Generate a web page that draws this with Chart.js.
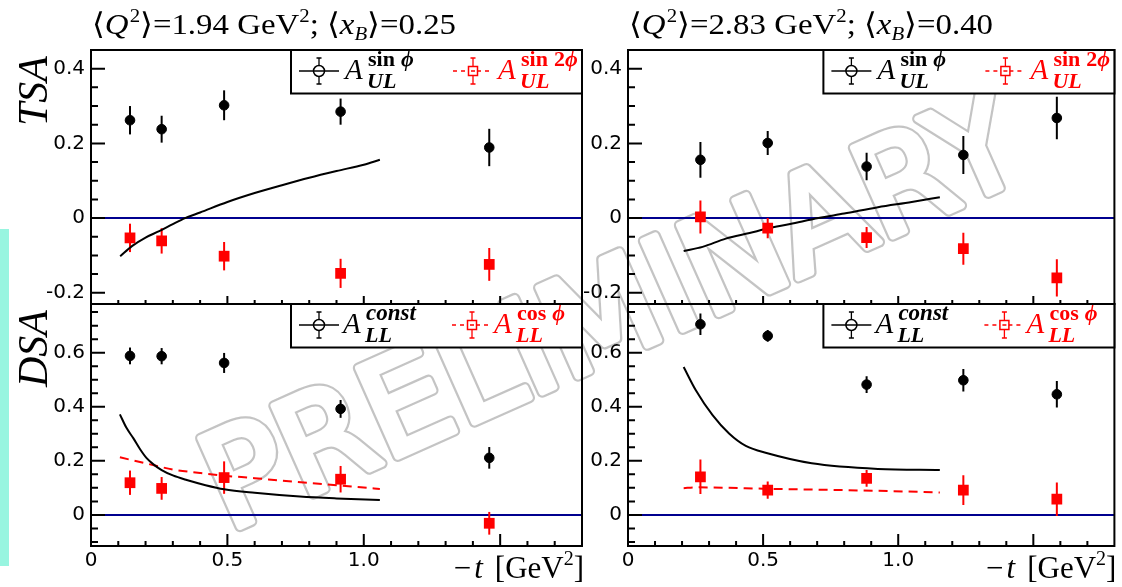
<!DOCTYPE html>
<html><head><meta charset="utf-8">
<script src="https://cdn.jsdelivr.net/npm/chart.js@4.4.1/dist/chart.umd.min.js"></script>
<style>
html,body{margin:0;padding:0;background:#fff;}
#wrap{position:relative;width:1122px;height:587px;overflow:hidden;background:#fff;}
#wrap canvas{position:absolute;left:0;top:0;}
</style></head><body>
<div id="wrap">
<canvas id="cTL" width="1122" height="587"></canvas>
<canvas id="cTR" width="1122" height="587"></canvas>
<canvas id="cBL" width="1122" height="587"></canvas>
<canvas id="cBR" width="1122" height="587"></canvas>
</div>
<script>
// ---------------- DATA ----------------
const tBins_Q194 = [0.143, 0.259, 0.488, 0.915, 1.460];
const tBins_Q283 = [0.268, 0.517, 0.883, 1.241, 1.587];

const AULsinphi_Q194      = [0.262, 0.238, 0.302, 0.285, 0.189];
const AULsinphi_Q194_err  = [0.038, 0.036, 0.040, 0.035, 0.050];
const AULsin2phi_Q194     = [-0.053, -0.061, -0.102, -0.148, -0.124];
const AULsin2phi_Q194_err = [0.038, 0.034, 0.038, 0.039, 0.044];

const AULsinphi_Q283      = [0.156, 0.201, 0.138, 0.169, 0.268];
const AULsinphi_Q283_err  = [0.048, 0.032, 0.037, 0.051, 0.057];
const AULsin2phi_Q283     = [0.003, -0.027, -0.052, -0.082, -0.160];
const AULsin2phi_Q283_err = [0.044, 0.027, 0.028, 0.043, 0.050];

const ALLconst_Q194       = [0.588, 0.587, 0.562, 0.392, 0.211];
const ALLconst_Q194_err   = [0.031, 0.030, 0.037, 0.033, 0.040];
const ALLcosphi_Q194      = [0.119, 0.098, 0.138, 0.132, -0.031];
const ALLcosphi_Q194_err  = [0.045, 0.042, 0.060, 0.049, 0.042];

const ALLconst_Q283       = [0.705, 0.662, 0.482, 0.498, 0.446];
const ALLconst_Q283_err   = [0.040, 0.022, 0.031, 0.042, 0.049];
const ALLcosphi_Q283      = [0.141, 0.092, 0.135, 0.092, 0.058];
const ALLcosphi_Q283_err  = [0.064, 0.032, 0.031, 0.055, 0.062];

// model curves
const modelT_UL_Q194     = [0.107, 0.15, 0.2, 0.25, 0.3, 0.345, 0.4, 0.5, 0.6, 0.7, 0.8, 0.9, 1.0, 1.059];
const modelSinphi_Q194   = [-0.102, -0.075, -0.052, -0.035, -0.016, 0.0, 0.015, 0.043, 0.067, 0.088, 0.108, 0.126, 0.143, 0.156];

const modelT_UL_Q283     = [0.206, 0.276, 0.362, 0.45, 0.516, 0.6, 0.705, 0.8, 0.925, 1.05, 1.154];
const modelSinphi_Q283   = [-0.088, -0.077, -0.055, -0.04, -0.028, -0.016, 0.0, 0.012, 0.029, 0.043, 0.056];

const modelT_LL_Q194     = [0.106, 0.13, 0.155, 0.18, 0.204, 0.23, 0.259, 0.3, 0.351, 0.42, 0.488, 0.6, 0.766, 0.9, 1.059];
const modelConst_Q194    = [0.372, 0.322, 0.284, 0.243, 0.21, 0.186, 0.166, 0.146, 0.129, 0.11, 0.095, 0.082, 0.068, 0.061, 0.055];
const modelT_LLc_Q194    = [0.106, 0.204, 0.3, 0.4, 0.488, 0.6, 0.695, 0.8, 0.9, 1.0, 1.059];
const modelCosphi_Q194   = [0.213, 0.19, 0.168, 0.155, 0.145, 0.136, 0.127, 0.118, 0.11, 0.101, 0.096];

const modelT_LL_Q283     = [0.206, 0.251, 0.313, 0.374, 0.436, 0.516, 0.68, 0.925, 1.154];
const modelConst_Q283    = [0.547, 0.461, 0.369, 0.301, 0.255, 0.228, 0.191, 0.170, 0.166];
const modelT_LLc_Q283    = [0.206, 0.25, 0.5, 0.925, 1.154];
const modelCosphi_Q283   = [0.099, 0.102, 0.097, 0.089, 0.083];

// tick labels
const xMajorTicks  = [0, 0.5, 1.0];
const xMajorLabels = ['0', '0.5', '1.0'];
const yMajorTicks  = [-0.2, 0, 0.2, 0.4, 0.6];
const yMajorLabels = ['-0.2', '0', '0.2', '0.4', '0.6'];

// ---------------- HELPERS ----------------
const SERIF = '"Liberation Serif", "DejaVu Serif", serif';
const SANS = '"DejaVu Sans", sans-serif';
const zip = (xs, ys) => xs.map((x, i) => ({x: x, y: ys[i]}));
const near = (v, m) => Math.abs(v / m - Math.round(v / m)) < 1e-6;

function xLabel(v) {
  const i = xMajorTicks.findIndex(t => Math.abs(t - v) < 1e-6);
  return i >= 0 ? xMajorLabels[i] : '';
}
function yLabel(v) {
  const i = yMajorTicks.findIndex(t => Math.abs(t - v) < 1e-6);
  return i >= 0 ? yMajorLabels[i] : '';
}

function drawRich(ctx, x, y, parts) {
  let cx = x;
  for (const p of parts) {
    ctx.font = p[1]; ctx.fillStyle = p[3] || '#000';
    ctx.fillText(p[0], cx, y + (p[2] || 0));
    cx += ctx.measureText(p[0]).width + (p[4] || 0);
  }
  return cx;
}
function richWidth(ctx, parts) {
  let w = 0;
  for (const p of parts) { ctx.font = p[1]; w += ctx.measureText(p[0]).width + (p[4] || 0); }
  return w;
}

function drawBackground(ctx) {
  ctx.save();
  ctx.fillStyle = 'rgb(152,245,224)';
  ctx.fillRect(0, 229, 9, 337);
  // PRELIMINARY watermark
  ctx.translate(228, 532);
  ctx.rotate(-24 * Math.PI / 180);
  ctx.font = '133px ' + SANS;
  ctx.textBaseline = 'alphabetic';
  ctx.lineJoin = 'round'; ctx.lineCap = 'round';
  ctx.strokeStyle = '#c4c4c4'; ctx.lineWidth = 11;
  ctx.strokeText('PRELIMINARY', 0, 0);
  ctx.strokeStyle = '#ffffff'; ctx.lineWidth = 6.5;
  ctx.strokeText('PRELIMINARY', 0, 0);
  ctx.fillStyle = '#ffffff';
  ctx.fillText('PRELIMINARY', 0, 0);
  ctx.restore();
}

function drawTitle(ctx, x, y, q, xb) {
  const F = '30px ' + SERIF, FI = 'italic 30px ' + SERIF, FS = '19px ' + SERIF, FSI = 'italic 19px ' + SERIF;
  const parts = [
    ['\u27E8', F], ['Q', FI, 0, null, 1], ['2', FS, -12], ['\u27E9=' + q + ' GeV', F], ['2', FS, -12],
    ['; \u27E8', F], ['x', FI], ['B', FSI, 6], ['\u27E9=' + xb, F]
  ];
  const w = richWidth(ctx, parts);
  ctx.save();
  ctx.translate(x, y);
  ctx.scale(364 / w, 1);
  drawRich(ctx, 0, 0, parts);
  ctx.restore();
}

function drawYTitle(ctx, txt, xBase, yEnd) {
  ctx.save();
  ctx.translate(xBase, yEnd);
  ctx.rotate(-Math.PI / 2);
  ctx.font = 'italic 42px ' + SERIF;
  ctx.fillStyle = '#000';
  ctx.textAlign = 'right';
  ctx.textBaseline = 'alphabetic';
  ctx.fillText(txt, 0, 0);
  ctx.restore();
}

function drawXTitle(ctx, right, base) {
  const F = '31px ' + SERIF, FI = 'italic 31px ' + SERIF, FS = '20px ' + SERIF;
  const parts = [['\u2212', F, 0, null, 3], ['t', FI, 0, null, 12], ['[GeV', F], ['2', FS, -13], [']', F]];
  const w = richWidth(ctx, parts);
  drawRich(ctx, right - w, base, parts);
}

function legendEntry(ctx, x0, yc, color, dashed, square) {
  ctx.save();
  ctx.strokeStyle = color; ctx.lineWidth = 1.6;
  if (dashed) ctx.setLineDash([4, 4]);
  ctx.beginPath(); ctx.moveTo(x0, yc); ctx.lineTo(x0 + 40, yc); ctx.stroke();
  ctx.setLineDash([]);
  const xm = x0 + 20;
  ctx.lineWidth = 1.3;
  ctx.beginPath();
  ctx.moveTo(xm, yc - 13); ctx.lineTo(xm, yc + 13);
  ctx.moveTo(xm - 2.5, yc - 13); ctx.lineTo(xm + 2.5, yc - 13);
  ctx.moveTo(xm - 2.5, yc + 13); ctx.lineTo(xm + 2.5, yc + 13);
  ctx.stroke();
  ctx.lineWidth = 1.5;
  if (square) {
    ctx.fillStyle = '#fff'; ctx.fillRect(xm - 4.5, yc - 4.5, 9, 9);
    ctx.strokeRect(xm - 4.5, yc - 4.5, 9, 9);
    ctx.beginPath(); ctx.moveTo(xm - 2, yc); ctx.lineTo(xm + 2, yc); ctx.stroke();
  } else {
    ctx.fillStyle = '#fff';
    ctx.beginPath(); ctx.arc(xm, yc, 5.5, 0, Math.PI * 2); ctx.fill(); ctx.stroke();
    ctx.beginPath(); ctx.moveTo(xm - 5.5, yc); ctx.lineTo(xm + 5.5, yc); ctx.stroke();
  }
  ctx.restore();
}

function legendText(ctx, xA, T, color, supParts, sub) {
  ctx.save();
  ctx.fillStyle = color;
  ctx.font = 'italic 29px ' + SERIF;
  ctx.fillText('A', xA, T + 29);
  drawRich(ctx, xA + 23, T + 16, supParts.map(p => [p[0], p[1], 0, color, p[2] || 0]));
  ctx.font = 'italic bold 22px ' + SERIF;
  ctx.fillStyle = color;
  ctx.fillText(sub, xA + 22, T + 38);
  ctx.restore();
}

function drawLegend(ctx, R, T, kind) {
  const L = R - 291, H = 43.5;
  ctx.save();
  ctx.fillStyle = '#fff'; ctx.fillRect(L, T, R - L, H);
  ctx.strokeStyle = '#000'; ctx.lineWidth = 2; ctx.strokeRect(L, T, R - L, H);
  const yc = T + 21;
  const B = 'bold 22px ' + SERIF, BI = 'italic bold 22px ' + SERIF, BI2 = 'italic bold 23px ' + SERIF;
  if (kind === 'UL') {
    legendEntry(ctx, L + 8, yc, '#000', false, false);
    legendText(ctx, L + 54, T, '#000', [['sin', B, 6], ['\u03D5', BI]], 'UL');
    legendEntry(ctx, L + 162, yc, '#ff0000', true, true);
    legendText(ctx, L + 207, T, '#ff0000', [['sin', B, 6], ['2', B], ['\u03D5', BI]], 'UL');
  } else {
    legendEntry(ctx, L + 8, yc, '#000', false, false);
    legendText(ctx, L + 52, T, '#000', [['const', BI2]], 'LL');
    legendEntry(ctx, L + 161, yc, '#ff0000', true, true);
    legendText(ctx, L + 203, T, '#ff0000', [['cos', B, 6], ['\u03D5', BI]], 'LL');
  }
  ctx.restore();
}

const deco = {
  id: 'deco',
  beforeDraw(chart, args, o) {
    if (o.background) drawBackground(chart.ctx);
  },
  beforeDatasetsDraw(chart, args, o) {
    const {ctx, chartArea: a, scales: {x, y}} = chart;
    ctx.save();
    ctx.beginPath(); ctx.rect(a.left, a.top, a.right - a.left, a.bottom - a.top); ctx.clip();
    const y0 = y.getPixelForValue(0);
    ctx.strokeStyle = '#00008f'; ctx.lineWidth = 2;
    ctx.beginPath(); ctx.moveTo(a.left, y0); ctx.lineTo(a.right, y0); ctx.stroke();
    chart.data.datasets.forEach(ds => {
      if (!ds.errY) return;
      ctx.strokeStyle = ds.borderColor; ctx.lineWidth = 2;
      ds.data.forEach((p, i) => {
        const px = x.getPixelForValue(p.x);
        ctx.beginPath();
        ctx.moveTo(px, y.getPixelForValue(p.y - ds.errY[i]));
        ctx.lineTo(px, y.getPixelForValue(p.y + ds.errY[i]));
        ctx.stroke();
      });
    });
    ctx.restore();
  },
  afterDraw(chart, args, o) {
    const {ctx, chartArea: a, scales: {x, y}} = chart;
    ctx.save();
    ctx.strokeStyle = '#000'; ctx.lineWidth = 2;
    ctx.beginPath();
    x.ticks.forEach(t => {
      const px = x.getPixelForValue(t.value);
      if (px <= a.left + 1 || px >= a.right - 1) return;
      const len = near(t.value, 0.5) ? o.xMajor : o.xMinor;
      ctx.moveTo(px, a.bottom); ctx.lineTo(px, a.bottom - len);
    });
    y.ticks.forEach(t => {
      const py = y.getPixelForValue(t.value);
      if (py <= a.top + 1 || py >= a.bottom - 1) return;
      const len = near(t.value, 0.2) ? 14 : 7;
      ctx.moveTo(a.left, py); ctx.lineTo(a.left + len, py);
    });
    ctx.stroke();
    ctx.strokeRect(a.left, a.top, a.right - a.left, a.bottom - a.top);
    ctx.restore();
    drawLegend(ctx, a.right, a.top, o.legend);
    ctx.save();
    ctx.fillStyle = '#000';
    if (o.title) drawTitle(ctx, a.left + 1, 34, o.title[0], o.title[1]);
    if (o.ytitle) drawYTitle(ctx, o.ytitle, 47, a.top + 6);
    if (o.xtitle) drawXTitle(ctx, a.right + 2, 578);
    ctx.restore();
  }
};

const W_Y = 60, H_X = 32;
function buildChart(p) {
  const ds = [
    {label: p.lab1, data: zip(p.t, p.v1), errY: p.e1, backgroundColor: '#000', borderColor: '#000',
     pointStyle: 'circle', pointRadius: 4.8, borderWidth: 1, showLine: false},
    {label: p.lab2, data: zip(p.t, p.v2), errY: p.e2, backgroundColor: '#ff0000', borderColor: '#ff0000',
     pointStyle: 'rect', pointRadius: 7.6, borderWidth: 0, showLine: false},
    {label: 'model ' + p.lab1, data: zip(p.mt1, p.mv1), showLine: true, borderColor: '#000', borderWidth: 2,
     pointRadius: 0, cubicInterpolationMode: 'monotone', fill: false}
  ];
  if (p.mt2) ds.push({label: 'model ' + p.lab2, data: zip(p.mt2, p.mv2), showLine: true, borderColor: '#ff0000',
     borderWidth: 2, borderDash: [9, 6], pointRadius: 0, cubicInterpolationMode: 'monotone', fill: false});
  const tickFont = {family: 'DejaVu Sans', size: 20};
  return new Chart(document.getElementById(p.id), {
    type: 'scatter',
    data: {datasets: ds},
    options: {
      responsive: false, animation: false, devicePixelRatio: 1, events: [],
      layout: {padding: {left: p.left - W_Y, right: 1122 - p.right, top: p.top, bottom: 587 - p.bottom - H_X}},
      plugins: {legend: {display: false}, tooltip: {enabled: false}, title: {display: false},
        deco: {background: !!p.background, legend: p.legend, title: p.title, ytitle: p.ytitle, xtitle: p.xtitle,
               xMajor: p.xMajor, xMinor: p.xMinor}},
      scales: {
        x: {type: 'linear', position: 'bottom', min: 0, max: 1.8,
            afterFit: s => { s.height = H_X; },
            grid: {display: false, drawTicks: false}, border: {display: false},
            ticks: {display: !!p.xlabels, stepSize: 0.1, autoSkip: false, maxRotation: 0, minRotation: 0,
                    includeBounds: false, maxTicksLimit: 100, padding: 3, font: tickFont, color: '#000',
                    callback: v => xLabel(v)}},
        y: {type: 'linear', position: 'left', min: p.ymin, max: p.ymax,
            afterFit: s => { s.width = W_Y; },
            grid: {display: false, drawTicks: false}, border: {display: false},
            ticks: {stepSize: 0.05, autoSkip: false, includeBounds: false, maxTicksLimit: 100, padding: 6,
                    font: tickFont, color: '#000', callback: v => yLabel(v)}}
      }
    },
    plugins: [deco]
  });
}

buildChart({id: 'cTL', left: 91, right: 582, top: 50, bottom: 304, ymin: -0.23, ymax: 0.45,
  t: tBins_Q194, v1: AULsinphi_Q194, e1: AULsinphi_Q194_err, v2: AULsin2phi_Q194, e2: AULsin2phi_Q194_err,
  lab1: 'A_UL^sinphi', lab2: 'A_UL^sin2phi', mt1: modelT_UL_Q194, mv1: modelSinphi_Q194,
  legend: 'UL', title: ['1.94', '0.25'], ytitle: 'TSA', background: true, xMajor: 8, xMinor: 4});
buildChart({id: 'cTR', left: 628, right: 1118, top: 50, bottom: 304, ymin: -0.23, ymax: 0.45,
  t: tBins_Q283, v1: AULsinphi_Q283, e1: AULsinphi_Q283_err, v2: AULsin2phi_Q283, e2: AULsin2phi_Q283_err,
  lab1: 'A_UL^sinphi', lab2: 'A_UL^sin2phi', mt1: modelT_UL_Q283, mv1: modelSinphi_Q283,
  legend: 'UL', title: ['2.83', '0.40'], xMajor: 8, xMinor: 4});
buildChart({id: 'cBL', left: 91, right: 582, top: 304, bottom: 546, ymin: -0.115, ymax: 0.78,
  t: tBins_Q194, v1: ALLconst_Q194, e1: ALLconst_Q194_err, v2: ALLcosphi_Q194, e2: ALLcosphi_Q194_err,
  lab1: 'A_LL^const', lab2: 'A_LL^cosphi', mt1: modelT_LL_Q194, mv1: modelConst_Q194,
  mt2: modelT_LLc_Q194, mv2: modelCosphi_Q194,
  legend: 'LL', ytitle: 'DSA', xtitle: true, xlabels: true, xMajor: 12, xMinor: 5});
buildChart({id: 'cBR', left: 628, right: 1118, top: 304, bottom: 546, ymin: -0.115, ymax: 0.78,
  t: tBins_Q283, v1: ALLconst_Q283, e1: ALLconst_Q283_err, v2: ALLcosphi_Q283, e2: ALLcosphi_Q283_err,
  lab1: 'A_LL^const', lab2: 'A_LL^cosphi', mt1: modelT_LL_Q283, mv1: modelConst_Q283,
  mt2: modelT_LLc_Q283, mv2: modelCosphi_Q283,
  legend: 'LL', xtitle: true, xlabels: true, xMajor: 12, xMinor: 5});
</script>
</body></html>
